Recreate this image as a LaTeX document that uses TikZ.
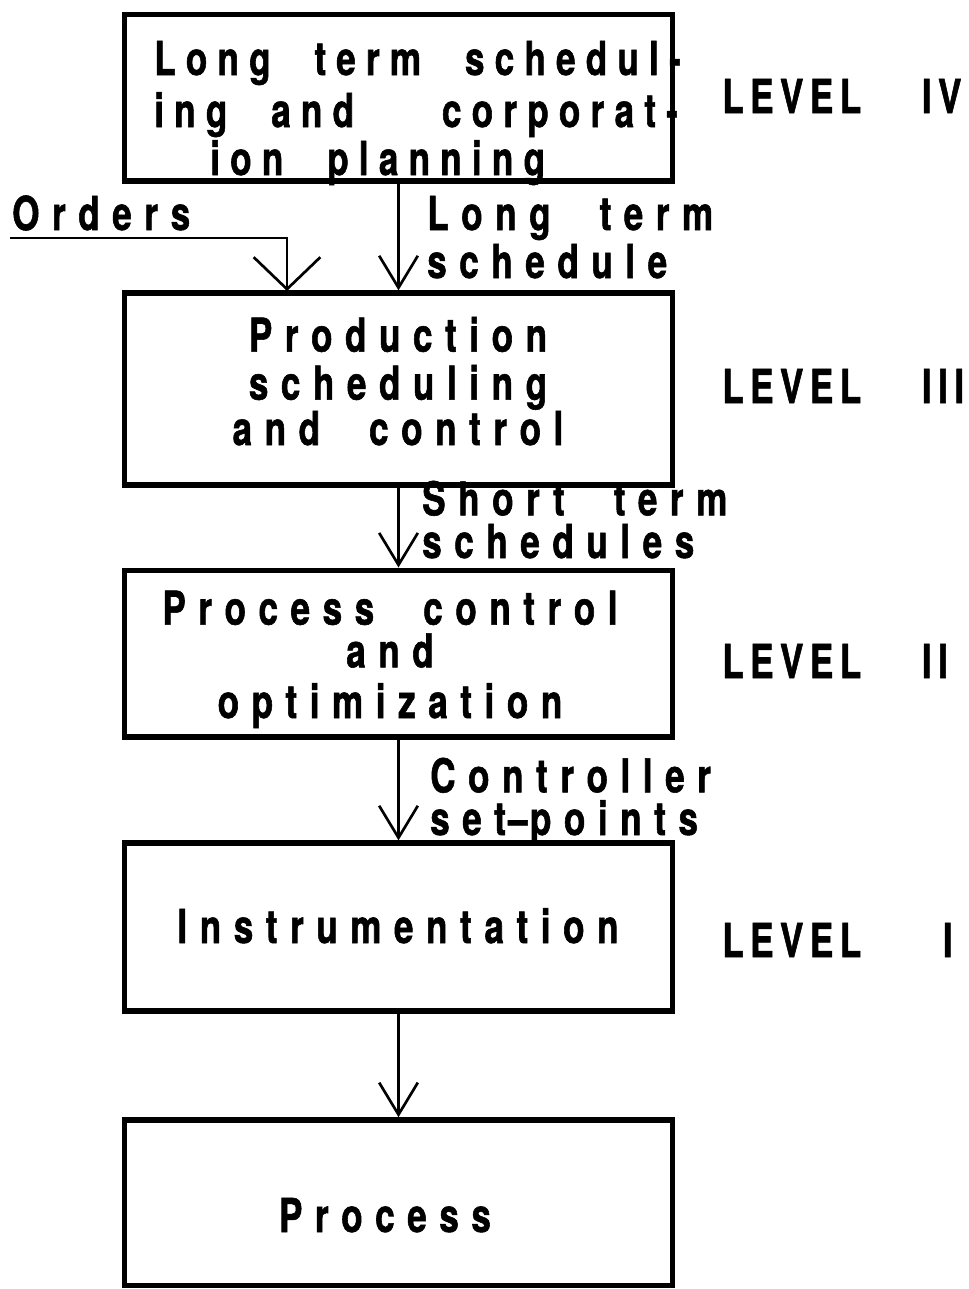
\documentclass[tikz,border=0pt]{standalone}
\usepackage{fontspec}
\setmainfont{TeX Gyre Heros}[FakeStretch=0.75,LetterSpace=27,WordSpace=2.2,BoldFeatures={FakeBold=1.2}]
\usetikzlibrary{arrows.meta}

\begin{document}
\begin{tikzpicture}[x=0.75pt,y=-0.75pt,
  blk/.style={draw,line width=4pt,minimum width=411pt,inner sep=0pt},
  txt/.style={font=\fontsize{35}{36}\selectfont\bfseries,inner sep=0pt,align=center},
  lvl/.style={txt,font=\fontsize{35}{36}\selectfont\bfseries\addfontfeature{LetterSpace=14},anchor=base west},
  flow/.style={line width=2pt,-{Straight Barb[length=24pt,width=29pt]}},
  wideflow/.style={line width=2pt,-{Straight Barb[length=24pt,width=50pt]}}]
  \useasboundingbox (0,0) rectangle (968,1289);
  % boxes
  \node[blk,minimum height=125pt] (ltp) at (398.5,97.5) {};
  \node[blk,minimum height=144pt] (psc) at (398.5,389) {};
  \node[blk,minimum height=125pt] (pco) at (398.5,653.5) {};
  \node[blk,minimum height=126pt] (ins) at (398.5,927) {};
  \node[blk,minimum height=124pt] (prc) at (398.5,1202.5) {};
  % box texts (base = last line)
  \node[txt,anchor=base west,align=left,font=\fontsize{35}{36}\selectfont\bfseries\addfontfeature{LetterSpace=22}] (ltpt) at (154,175)
    {Long term schedul-\\[3pt]ing and \ corporat-\\\hspace*{42pt}ion planning};
  \node[txt,anchor=base] (psct) at (398,445)
    {Production\\scheduling\\[-2pt]and control};
  \node[txt,anchor=base] (pcot) at (390,718)
    {Process control\\[-4pt]and\\[2pt]optimization};
  \node[txt,anchor=base] (inst) at (398,943) {Instrumentation};
  \node[txt,anchor=base] (prct) at (385,1232) {Process};
  % levels
  \node[lvl] (lv4) at (722,113) {LEVEL\hspace{1.3em}IV};
  \node[lvl] (lv3) at (722,403) {LEVEL\hspace{1.3em}III};
  \node[lvl] (lv2) at (722,678) {LEVEL\hspace{1.3em}II};
  \node[lvl] (lv1) at (722,957) {LEVEL\hspace{1.75em}I};
  % connectors
  \draw[flow] (ltp) -- (psc);
  \draw[flow] (psc) -- (pco);
  \draw[flow] (pco) -- (ins);
  \draw[flow] (ins) -- (prc);
  \coordinate (ord) at (10,238);
  \coordinate (ordin) at (287,291);
  \draw[wideflow] (ord) -| (ordin);
  % signal labels
  \node[txt,anchor=base west,align=left] (ordl) at (12,230) {Orders};
  \node[txt,anchor=base west,align=left] (lts) at (427,278) {Long term\\schedule};
  \node[txt,anchor=base west,align=left] (sts) at (422,558) {Short term\\[-4pt]schedules};
  \node[txt,anchor=base west,align=left] (csp) at (430,835)
    {Controller\\[-4pt]set\hspace{0.05em}–\hspace{0.05em}points};
\end{tikzpicture}
\end{document}
